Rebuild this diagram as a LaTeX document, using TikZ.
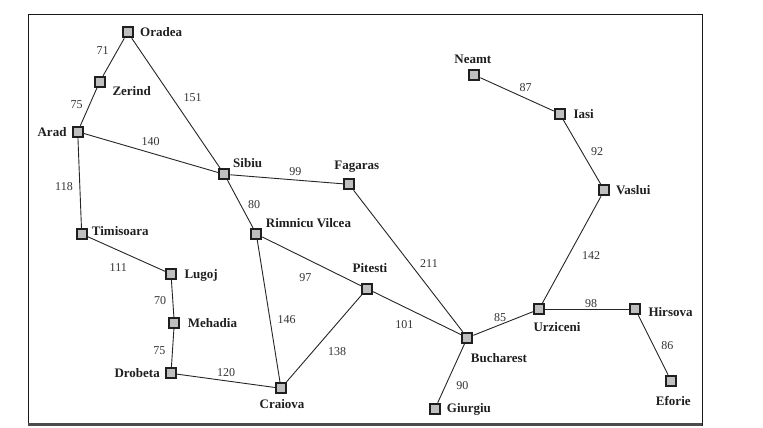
\documentclass[tikz,border=0pt]{standalone}
\usepackage{fontspec}
\setmainfont{Liberation Serif}
\begin{document}
\begin{tikzpicture}[x=1bp,y=-1bp,
  city/.style={draw=black!88,line width=2bp,fill=black!25,minimum size=10bp,inner sep=0pt,rectangle},
  road/.style={draw=black!85,line width=0.9bp},
  cname/.style={font=\fontsize{13bp}{15bp}\selectfont\bfseries,text=black!88,inner sep=0pt},
  dist/.style={font=\fontsize{12bp}{14bp}\selectfont,text=black!80,inner sep=0pt,anchor=base}]
\useasboundingbox (0,0) rectangle (763,427);
\fill[white] (0,0) rectangle (763,427);
% frame
\draw[line width=0.9bp,black!90] (28.3,426) -- (28.3,14) -- (702,14) -- (702,426);
\draw[line width=2.6bp,black!70] (28.3,424.5) -- (702,424.5);
% cities
\node[city] (Oradea) at (127.7,32.3) {};
\node[city] (Zerind) at (99.7,81.7) {};
\node[city] (Arad) at (77.7,131.7) {};
\node[city] (Sibiu) at (224.3,174.3) {};
\node[city] (Fagaras) at (349,184.3) {};
\node[city] (Neamt) at (474.3,75) {};
\node[city] (Iasi) at (559.7,113.7) {};
\node[city] (Vaslui) at (604.3,190.3) {};
\node[city] (Timisoara) at (81.7,234) {};
\node[city] (Rimnicu) at (256.3,234) {};
\node[city] (Lugoj) at (171,274) {};
\node[city] (Mehadia) at (174.3,323) {};
\node[city] (Drobeta) at (171,373.3) {};
\node[city] (Craiova) at (281,388.3) {};
\node[city] (Pitesti) at (367,288.7) {};
\node[city] (Bucharest) at (467.3,337.7) {};
\node[city] (Urziceni) at (539,309.3) {};
\node[city] (Hirsova) at (635.3,309.3) {};
\node[city] (Eforie) at (671,380.7) {};
\node[city] (Giurgiu) at (435,408.7) {};
% roads
\begin{scope}[on background layer/.style={}]
\end{scope}
\draw[road] (Oradea) -- (Zerind);
\draw[road] (Zerind) -- (Arad);
\draw[road] (Oradea) -- (Sibiu);
\draw[road] (Arad) -- (Sibiu);
\draw[road] (Arad) -- (Timisoara);
\draw[road] (Sibiu) -- (Fagaras);
\draw[road] (Sibiu) -- (Rimnicu);
\draw[road] (Timisoara) -- (Lugoj);
\draw[road] (Lugoj) -- (Mehadia);
\draw[road] (Mehadia) -- (Drobeta);
\draw[road] (Drobeta) -- (Craiova);
\draw[road] (Rimnicu) -- (Craiova);
\draw[road] (Rimnicu) -- (Pitesti);
\draw[road] (Craiova) -- (Pitesti);
\draw[road] (Pitesti) -- (Bucharest);
\draw[road] (Fagaras) -- (Bucharest);
\draw[road] (Bucharest) -- (Giurgiu);
\draw[road] (Bucharest) -- (Urziceni);
\draw[road] (Urziceni) -- (Hirsova);
\draw[road] (Hirsova) -- (Eforie);
\draw[road] (Urziceni) -- (Vaslui);
\draw[road] (Vaslui) -- (Iasi);
\draw[road] (Iasi) -- (Neamt);
% city names
\node[cname,anchor=base west] (lOradea) at (140,36.6) {Oradea};
\node[cname,anchor=base west] (lZerind) at (112.3,95) {Zerind};
\node[cname,anchor=base east] (lArad) at (66.7,136) {Arad};
\node[cname,anchor=base west] (lSibiu) at (233,167.3) {Sibiu};
\node[cname,anchor=base] (lFagaras) at (356.7,169.3) {Fagaras};
\node[cname,anchor=base] (lNeamt) at (472.8,63.3) {Neamt};
\node[cname,anchor=base west] (lIasi) at (573.3,118) {Iasi};
\node[cname,anchor=base west] (lVaslui) at (616,194.3) {Vaslui};
\node[cname,anchor=base west] (lTimisoara) at (91.7,235) {Timisoara};
\node[cname,anchor=base west] (lRimnicu) at (265.7,227.6) {Rimnicu Vilcea};
\node[cname,anchor=base west] (lLugoj) at (184.3,278.3) {Lugoj};
\node[cname,anchor=base west] (lMehadia) at (187.7,327.3) {Mehadia};
\node[cname,anchor=base east] (lDrobeta) at (160,377.3) {Drobeta};
\node[cname,anchor=base] (lCraiova) at (282,408.3) {Craiova};
\node[cname,anchor=base] (lPitesti) at (370,272.6) {Pitesti};
\node[cname,anchor=base west] (lBucharest) at (470.7,362) {Bucharest};
\node[cname,anchor=base] (lUrziceni) at (557,331.6) {Urziceni};
\node[cname,anchor=base west] (lHirsova) at (648.3,316.3) {Hirsova};
\node[cname,anchor=base] (lEforie) at (673.3,405) {Eforie};
\node[cname,anchor=base west] (lGiurgiu) at (446.7,412) {Giurgiu};
% distances
\node[dist] (d71) at (102.7,54) {71};
\node[dist] (d75a) at (76.7,108.3) {75};
\node[dist] (d151) at (192.7,101.7) {151};
\node[dist] (d140) at (150.7,145) {140};
\node[dist] (d118) at (64,190.7) {118};
\node[dist] (d99) at (295.3,175.7) {99};
\node[dist] (d80) at (254,208) {80};
\node[dist] (d87) at (525.7,91.3) {87};
\node[dist] (d92) at (597,155.7) {92};
\node[dist] (d111) at (118.3,271.3) {111};
\node[dist] (d70) at (160,304.7) {70};
\node[dist] (d75b) at (159.3,354.3) {75};
\node[dist] (d120) at (226,376.3) {120};
\node[dist] (d97) at (305.3,281.7) {97};
\node[dist] (d146) at (286.7,323) {146};
\node[dist] (d138) at (337,355.7) {138};
\node[dist] (d211) at (429,267.3) {211};
\node[dist] (d142) at (591,259) {142};
\node[dist] (d101) at (404.3,328.3) {101};
\node[dist] (d85) at (500,321.3) {85};
\node[dist] (d98) at (591,307.3) {98};
\node[dist] (d86) at (667.3,349) {86};
\node[dist] (d90) at (462.3,389.7) {90};
\end{tikzpicture}
\end{document}
